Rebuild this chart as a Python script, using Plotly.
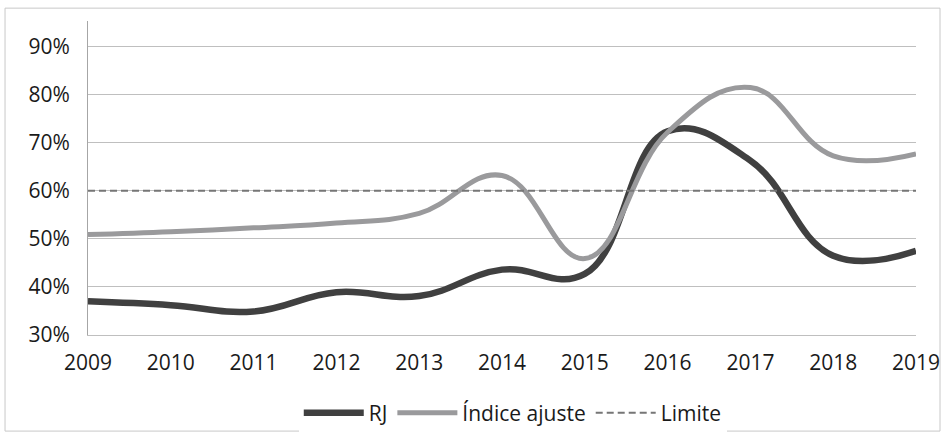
import plotly.graph_objects as go

years = [2009, 2010, 2011, 2012, 2013, 2014, 2015, 2016, 2017, 2018, 2019]
rj = [0.370, 0.362, 0.349, 0.389, 0.381, 0.436, 0.427, 0.724, 0.663, 0.465, 0.475]
indice = [0.509, 0.515, 0.523, 0.533, 0.553, 0.632, 0.459, 0.722, 0.815, 0.673, 0.677]
limite = [0.60] * len(years)
y_ticks = [0.3, 0.4, 0.5, 0.6, 0.7, 0.8, 0.9]

FONT = "Open Sans"

fig = go.Figure()
fig.add_trace(go.Scatter(x=years, y=rj, name="RJ", mode="lines",
                         line=dict(color="#404040", width=6.5, shape="spline", smoothing=1.2)))
fig.add_trace(go.Scatter(x=years, y=indice, name="Índice ajuste", mode="lines",
                         line=dict(color="#9a9a9c", width=5, shape="spline", smoothing=1.2)))
fig.add_trace(go.Scatter(x=years, y=limite, name="Limite", mode="lines",
                         line=dict(color="#767676", width=2, dash="7px,4px")))

fig.update_layout(
    width=945, height=436,
    margin=dict(l=88, r=29, t=21, b=101, autoexpand=False),
    paper_bgcolor="white", plot_bgcolor="white",
    font=dict(family=FONT, size=21, color="#1a1a1a"),
    showlegend=True,
    legend=dict(orientation="h", x=0.513, xanchor="center", y=-0.249, yanchor="middle",
                font=dict(family=FONT, size=21, color="#1a1a1a"),
                itemwidth=60, tracegroupgap=0),
    xaxis=dict(range=[2009, 2019], tickvals=years, ticktext=[str(y) for y in years],
               showgrid=False, zeroline=False, showline=True, linecolor="#bfbfbf", linewidth=1,
               ticks="", ticklabelstandoff=9, automargin=False, fixedrange=True),
    yaxis=dict(range=[0.3, 0.9535], tickvals=y_ticks, tickformat=".0%",
               showgrid=True, gridcolor="#bfbfbf", gridwidth=1, zeroline=False,
               showline=True, linecolor="#a6a6a6", linewidth=1,
               ticks="", ticklabelstandoff=13, automargin=False, fixedrange=True),
    shapes=[dict(type="rect", xref="paper", yref="paper",
                 x0=-0.1002, x1=1.029, y0=-0.306, y1=1.041,
                 line=dict(color="#c8c8c8", width=1), fillcolor="rgba(0,0,0,0)", layer="below")],
)

fig.write_html("out.html", config={"displayModeBar": False},
               post_script="document.body.style.margin='0';")
